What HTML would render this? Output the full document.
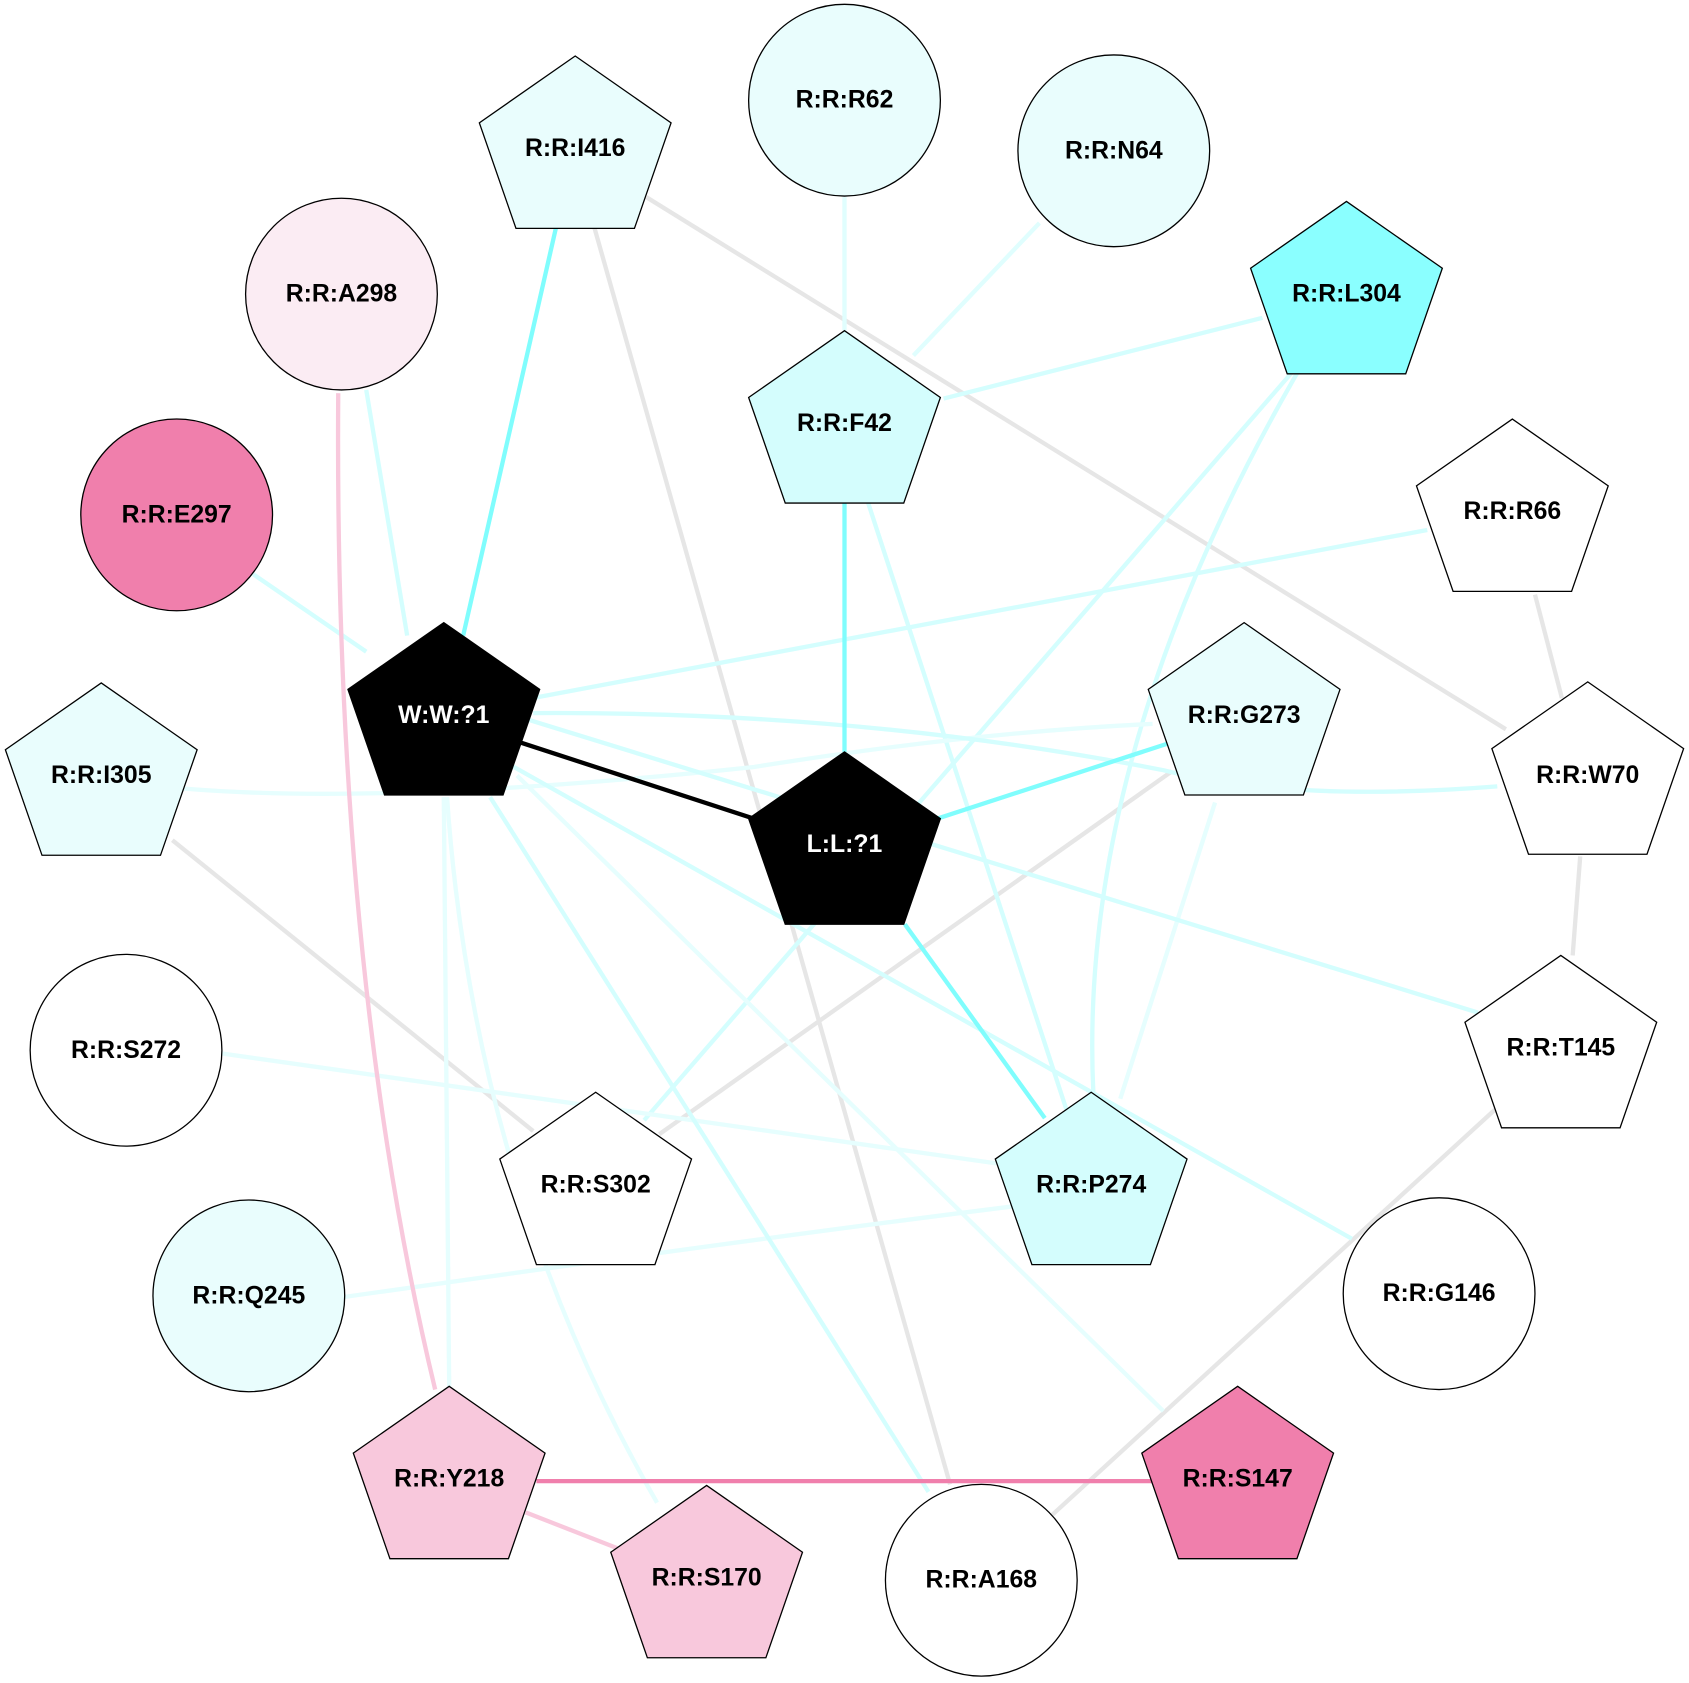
<!DOCTYPE html>
<html><head><meta charset="utf-8"><style>html,body{margin:0;padding:0;background:#fff}svg{display:block}</style></head>
<body>
<svg width="1689" height="1683" viewBox="0 0 1568 1562.4" xmlns="http://www.w3.org/2000/svg">
<defs>
<symbol id="p" overflow="visible"><polygon points="0,0 89,62 55,160 -55,160 -89,62" stroke="#000" stroke-width="1.2"/></symbol>
</defs>
<rect width="1568" height="1563" fill="#fff"/>
<g fill="none" stroke-width="4">
<!-- grey -->
<line x1="552" y1="212" x2="882" y2="1378" stroke="#e6e6e6"/>
<line x1="600" y1="183" x2="1398" y2="677" stroke="#e6e6e6"/>
<line x1="1425" y1="552" x2="1450" y2="648" stroke="#e6e6e6"/>
<line x1="1467" y1="795" x2="1460" y2="887" stroke="#e6e6e6"/>
<line x1="1388" y1="1030" x2="975" y2="1408" stroke="#e6e6e6"/>
<line x1="160" y1="780" x2="495" y2="1050" stroke="#e6e6e6"/>
<line x1="1088" y1="716" x2="612" y2="1053" stroke="#e6e6e6"/>
<!-- light cyan -->
<line x1="784" y1="183" x2="784" y2="307" stroke="#e0fefe"/>
<line x1="965" y1="207" x2="848" y2="330" stroke="#e0fefe"/>
<line x1="1172" y1="295" x2="876" y2="370" stroke="#d4fefe"/>
<line x1="806" y1="467" x2="990" y2="1030" stroke="#d4fefe"/>
<line x1="1200" y1="345" x2="598" y2="1040" stroke="#d4fefe"/>
<path d="M1205,345 Q1000,700 1015,1014" stroke="#d4fefe"/>
<line x1="1128" y1="745" x2="1040" y2="1020" stroke="#e6fefe"/>
<line x1="206" y1="978" x2="925" y2="1080" stroke="#e6fefe"/>
<path d="M320,1204 Q700,1150 940,1120" stroke="#e6fefe"/>
<line x1="340" y1="362" x2="378" y2="590" stroke="#d4fefe"/>
<line x1="235" y1="533" x2="340" y2="605" stroke="#d4fefe"/>
<line x1="1325" y1="492" x2="495" y2="648" stroke="#d4fefe"/>
<path d="M170,732 Q360,748 700,712 Q900,680 1070,672" stroke="#e6fefe"/>
<path d="M495,662 Q800,660 1080,715 Q1200,745 1390,730" stroke="#d4fefe"/>
<line x1="490" y1="668" x2="1372" y2="940" stroke="#d4fefe"/>
<line x1="470" y1="708" x2="1255" y2="1150" stroke="#d4fefe"/>
<line x1="455" y1="740" x2="862" y2="1385" stroke="#d4fefe"/>
<line x1="480" y1="720" x2="1080" y2="1310" stroke="#e6fefe"/>
<line x1="412" y1="740" x2="417" y2="1287" stroke="#e6fefe"/>
<path d="M415,740 Q440,1100 610,1395" stroke="#e6fefe"/>
<!-- strong cyan -->
<line x1="516" y1="212" x2="430" y2="590" stroke="#80fdfd"/>
<line x1="784" y1="467" x2="784" y2="698" stroke="#80fdfd"/>
<line x1="1085" y1="690" x2="870" y2="760" stroke="#80fdfd"/>
<line x1="840" y1="858" x2="970" y2="1038" stroke="#80fdfd"/>
<!-- black -->
<line x1="470" y1="685" x2="700" y2="760" stroke="#000"/>
<!-- pink -->
<path d="M314,365 Q310,900 404,1290" stroke="#f8c8dc"/>
<line x1="498" y1="1375" x2="1072" y2="1375" stroke="#f07fac"/>
<line x1="488" y1="1404" x2="580" y2="1440" stroke="#f8c8dc"/>
</g>
<g stroke="#000" stroke-width="1.2">
<circle cx="784" cy="93" r="89" fill="#e9fdfd"/>
<circle cx="1034" cy="140" r="89" fill="#e9fdfd"/>
<circle cx="317" cy="273" r="89" fill="#fbecf3"/>
<circle cx="164" cy="478" r="89" fill="#f07fac"/>
<circle cx="117" cy="975" r="89" fill="#fff"/>
<circle cx="231" cy="1203" r="89" fill="#e9fdfd"/>
<circle cx="1336" cy="1201" r="89" fill="#fff"/>
<circle cx="911" cy="1467" r="89" fill="#fff"/>
</g>
<use href="#p" x="534" y="52" fill="#e9fdfd"/>
<use href="#p" x="1250" y="187" fill="#8affff"/>
<use href="#p" x="784" y="307" fill="#d4fdfd"/>
<use href="#p" x="1404" y="389" fill="#fff"/>
<use href="#p" x="412" y="578" fill="#000"/>
<use href="#p" x="1155" y="578" fill="#e9fdfd"/>
<use href="#p" x="94" y="634" fill="#e9fdfd"/>
<use href="#p" x="1474" y="633" fill="#fff"/>
<use href="#p" x="784" y="698" fill="#000"/>
<use href="#p" x="1449" y="887" fill="#fff"/>
<use href="#p" x="553" y="1014" fill="#fff"/>
<use href="#p" x="1013" y="1014" fill="#d4fdfd"/>
<use href="#p" x="417" y="1287" fill="#f8c8dc"/>
<use href="#p" x="1149" y="1287" fill="#f07fac"/>
<use href="#p" x="656" y="1379" fill="#f8c8dc"/>
<g font-family="Liberation Sans, sans-serif" font-weight="bold" font-size="23" text-anchor="middle" dominant-baseline="central" fill="#000">
<text x="534" y="138">R:R:I416</text>
<text x="784" y="93">R:R:R62</text>
<text x="1034" y="140">R:R:N64</text>
<text x="317" y="273">R:R:A298</text>
<text x="1250" y="273">R:R:L304</text>
<text x="784" y="393">R:R:F42</text>
<text x="164" y="478">R:R:E297</text>
<text x="1404" y="475">R:R:R66</text>
<text x="412" y="664" fill="#fff">W:W:?1</text>
<text x="1155" y="664">R:R:G273</text>
<text x="94" y="720">R:R:I305</text>
<text x="1474" y="720">R:R:W70</text>
<text x="784" y="784" fill="#fff">L:L:?1</text>
<text x="117" y="975">R:R:S272</text>
<text x="1449" y="973">R:R:T145</text>
<text x="553" y="1100">R:R:S302</text>
<text x="1013" y="1100">R:R:P274</text>
<text x="231" y="1203">R:R:Q245</text>
<text x="1336" y="1201">R:R:G146</text>
<text x="417" y="1373">R:R:Y218</text>
<text x="1149" y="1373">R:R:S147</text>
<text x="656" y="1465">R:R:S170</text>
<text x="911" y="1467">R:R:A168</text>
</g>
</svg>
</body></html>
